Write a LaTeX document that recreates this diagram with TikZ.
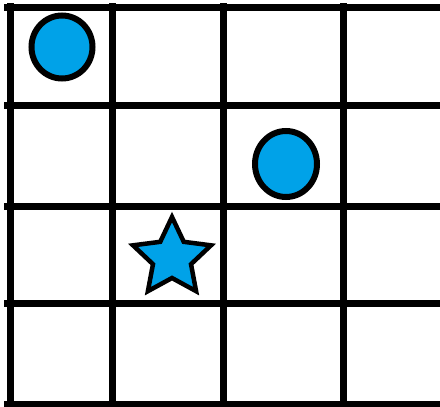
\documentclass[tikz,border=0pt]{standalone}
\usepackage{tikz}
\usetikzlibrary{shapes.geometric}
\definecolor{PaintBlue}{HTML}{00A2E8}
\definecolor{PaintInk}{HTML}{000000}

\begin{document}
\begin{tikzpicture}[x=1pt,y=-1pt]
        \useasboundingbox (0,0) rectangle (440,407);
        \fill[white] (0,0) rectangle (440,407);

        \foreach \x in {10,112,223,343}{
          \draw[PaintInk,line width=7pt]
            (\x,3) -- (\x,407);
        }
        \foreach \y in {7,105,206,303,404}{
          \draw[PaintInk,line width=7pt]
            (4,\y) -- (440,\y);
        }

        \node[ellipse,draw=PaintInk,fill=PaintBlue,line width=6pt,
          inner sep=0pt,minimum width=61pt,minimum height=63pt]
          (dotA) at (62,47) {};
        \node[ellipse,draw=PaintInk,fill=PaintBlue,line width=6pt,
          inner sep=0pt,minimum width=62pt,minimum height=66pt]
          (dotB) at (286,164) {};
        \node[star,star points=5,star point ratio=2.05,
          draw=PaintInk,fill=PaintBlue,line width=4.5pt,
          inner sep=0pt,minimum size=82pt]
          (goal) at (172,258) {};
      \end{tikzpicture}
\end{document}
